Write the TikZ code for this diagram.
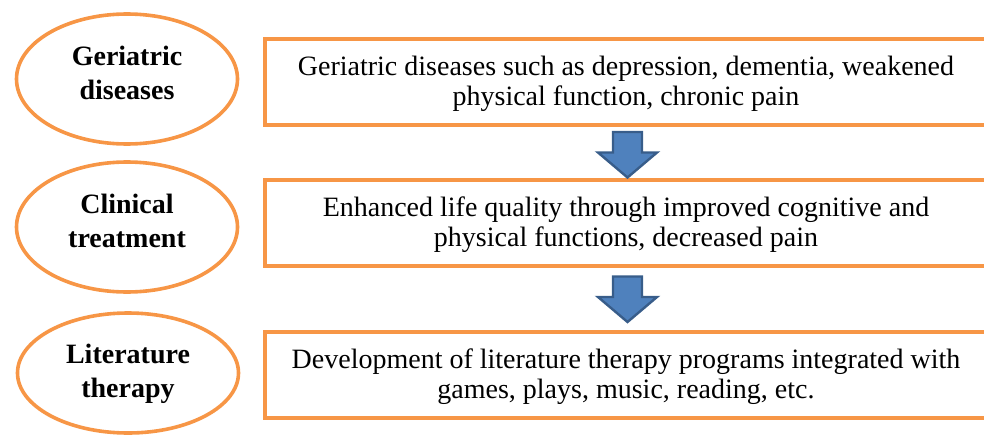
\documentclass[tikz,border=0pt]{standalone}
\usepackage{fontspec}
\setmainfont{Liberation Serif}
\usetikzlibrary{shapes.geometric}
\definecolor{accentorange}{HTML}{F79646}
\definecolor{arrowfill}{HTML}{4F81BD}
\definecolor{arrowedge}{HTML}{385D8A}
\begin{document}
\begin{tikzpicture}[x=1pt,y=-1pt,
  stage/.style={ellipse, draw=accentorange, line width=3.6pt,
    minimum width=221pt, minimum height=130pt, inner sep=0pt},
  stagetext/.style={align=center, inner sep=0pt, anchor=base,
    font=\rmfamily\bfseries\fontsize{28}{34}\selectfont},
  infobox/.style={rectangle, draw=accentorange, line width=4pt,
    minimum width=723pt, minimum height=86pt, inner sep=0pt},
  infotext/.style={align=center, inner sep=0pt, anchor=base,
    font=\rmfamily\fontsize{28}{30}\selectfont},
  blockarrow/.style={fill=arrowfill, draw=arrowedge, line width=2.4pt,
    line join=miter},
  downarrow/.pic={
    \path[blockarrow] (-14.5,-22.5) -- (14.5,-22.5) -- (14.5,-2)
      -- (29.5,-2) -- (0,23) -- (-29.5,-2) -- (-14.5,-2) -- cycle;
  }]
\clip (0,0) rectangle (984,436);
\useasboundingbox (0,0) rectangle (984,436);

% left column: stage ellipses
\node[stage] (e1) at (127,79) {};
\node[stage] (e2) at (127,227) {};
\node[stage, minimum height=120pt] (e3) at (128,373) {};
\node[stagetext] (l1) at (127,99) {Geriatric\\diseases};
\node[stagetext] (l2) at (127,247) {Clinical\\treatment};
\node[stagetext] (l3) at (128,397) {Literature\\therapy};

% right column: description boxes
\node[infobox] (b1) at (626.5,82) {};
\node[infobox] (b2) at (626.5,223) {};
\node[infobox] (b3) at (626.5,374.5) {};
\node[infotext] (d1) at (626,105)
  {Geriatric diseases such as depression, dementia, weakened\\physical function, chronic pain};
\node[infotext] (d2) at (626,246)
  {Enhanced life quality through improved cognitive and\\physical functions, decreased pain};
\node[infotext] (d3) at (626,398)
  {Development of literature therapy programs integrated with\\games, plays, music, reading, etc.};

% block arrows between the boxes
\coordinate (m1) at (627.5,154.5);
\coordinate (m2) at (627.5,299);
\pic at (m1) {downarrow};
\pic at (m2) {downarrow};
\end{tikzpicture}
\end{document}
